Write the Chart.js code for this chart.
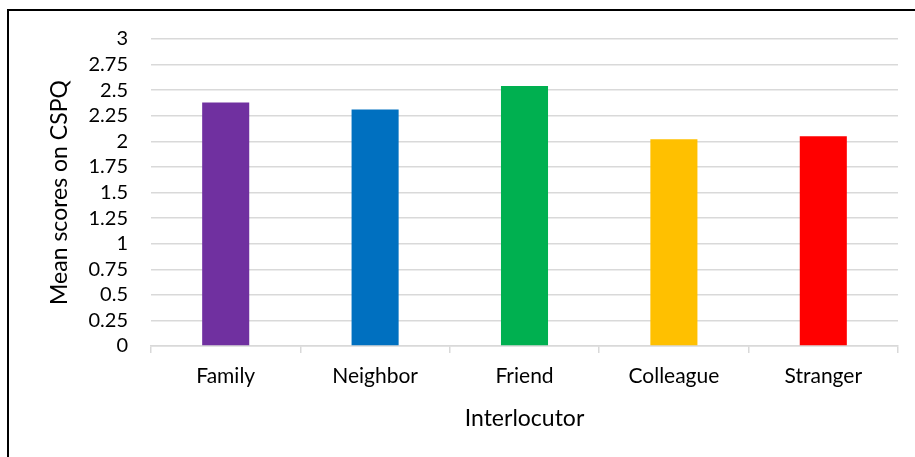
<!DOCTYPE html>
<html>
<head>
<meta charset="utf-8">
<script src="https://cdn.jsdelivr.net/npm/chart.js@4/dist/chart.umd.min.js"></script>
<style>
  html, body { margin: 0; padding: 0; background: #fff; }
  #wrap { position: relative; width: 915px; height: 457px; overflow: hidden; }
  #frame { position: absolute; left: 7px; top: 9px; width: 940px; height: 480px; border: 2px solid #000; box-sizing: border-box; }
  canvas { position: absolute; left: 0; top: 0; }
</style>
</head>
<body>
<div id="wrap">
  <div id="frame"></div>
  <canvas id="c" width="915" height="457"></canvas>
</div>
<script>
const categories = ["Family", "Neighbor", "Friend", "Colleague", "Stranger"];
const meanScores = [2.38, 2.31, 2.54, 2.02, 2.05];
const barColors = ["#7030A0", "#0070C0", "#00B050", "#FFC000", "#FF0000"];
const yTicks = [0, 0.25, 0.5, 0.75, 1, 1.25, 1.5, 1.75, 2, 2.25, 2.5, 2.75, 3];
const xTitle = "Interlocutor";
const yTitle = "Mean scores on CSPQ";

const FONT = "Lato, 'Open Sans', sans-serif";

new Chart(document.getElementById('c'), {
  type: 'bar',
  data: {
    labels: categories,
    datasets: [{
      data: meanScores,
      backgroundColor: barColors,
      borderWidth: 0,
      categoryPercentage: 1,
      barPercentage: 0.315
    }]
  },
  options: {
    responsive: false,
    animation: false,
    devicePixelRatio: 1,
    layout: { padding: { left: 0, right: 17, top: 39, bottom: 0 } },
    plugins: { legend: { display: false }, tooltip: { enabled: false } },
    scales: {
      x: {
        offset: true,
        grid: { display: true, drawOnChartArea: false, drawTicks: true, tickLength: 7, color: '#d9d9d9', lineWidth: 1.5, offset: true },
        border: { display: true, color: '#d9d9d9', width: 1.5 },
        ticks: { color: '#000', font: { family: FONT, size: 21 }, padding: 11, maxRotation: 0 },
        title: { display: true, text: xTitle, color: '#000', font: { family: FONT, size: 23 }, padding: { top: 10, bottom: 25 } },
        afterFit: (s) => { s.height = 111; }
      },
      y: {
        min: 0, max: 3,
        afterBuildTicks: (s) => { s.ticks = yTicks.map(v => ({ value: v })); },
        grid: { color: '#d9d9d9', lineWidth: 1.5, drawTicks: false },
        border: { display: false },
        ticks: { color: '#000', font: { family: FONT, size: 20 }, padding: 23, autoSkip: false, callback: (v) => String(v) },
        title: { display: true, text: yTitle, color: '#000', font: { family: FONT, size: 23 }, padding: { top: 46, bottom: 0 } },
        afterFit: (s) => { s.width = 151; }
      }
    }
  }
});
</script>
</body>
</html>
